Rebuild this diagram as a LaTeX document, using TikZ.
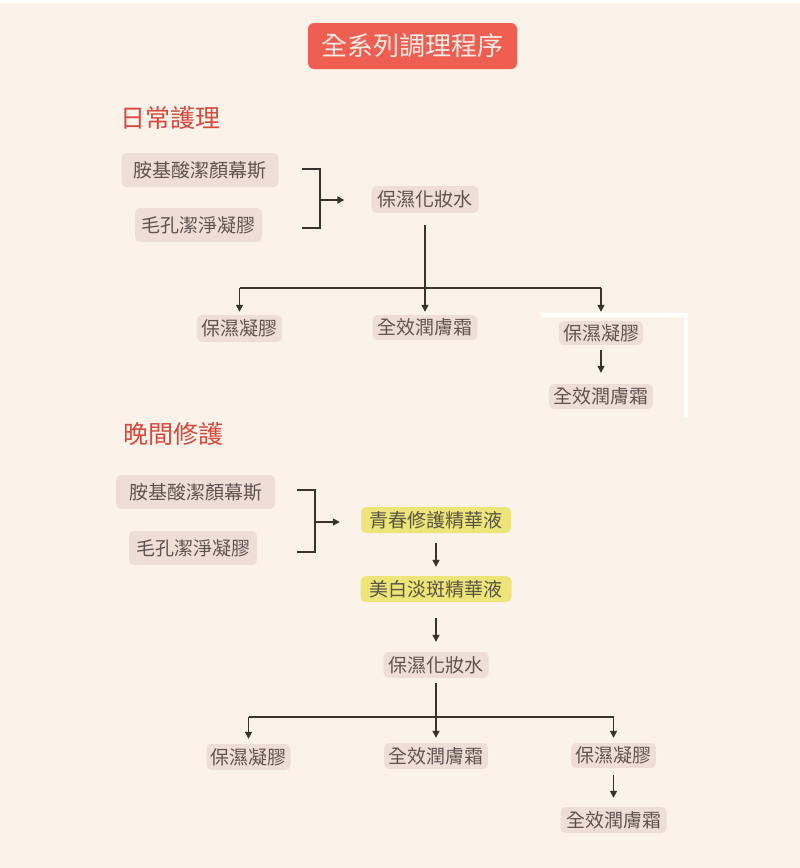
\documentclass[tikz,border=0pt]{standalone}
\usepackage{fontspec}
\setmainfont{Noto Sans CJK TC}
\usetikzlibrary{arrows.meta}
\definecolor{paper}{HTML}{FBF3EA}
\definecolor{itemfill}{HTML}{EEDED6}
\definecolor{itemtext}{HTML}{5F5450}
\definecolor{serumfill}{HTML}{EDE47A}
\definecolor{serumtext}{HTML}{5A5444}
\definecolor{titlered}{HTML}{EE5F52}
\definecolor{titletext}{HTML}{FCEAE4}
\definecolor{headred}{HTML}{D9483D}
\definecolor{linkcol}{HTML}{3B312D}
\tikzset{
  item/.style={fill=itemfill, text=itemtext, rounded corners=5pt,
    font=\fontsize{19}{19}\selectfont, minimum height=26pt, inner xsep=4pt, inner ysep=0pt},
  serum/.style={item, fill=serumfill, text=serumtext},
  heading/.style={text=headred, font=\fontsize{25}{25}\selectfont, anchor=west, inner sep=0pt},
  link/.style={draw=linkcol, line width=1.5pt},
  flow/.style={link, -{Triangle[length=7pt,width=7pt]}},
}
\begin{document}
\begin{tikzpicture}[x=1pt, y=-1pt]
  \fill[paper] (0,0) rectangle (800,868);
  \fill[white] (0,0) rectangle (800,3);

  \node[fill=titlered, text=titletext, rounded corners=6pt, minimum width=209pt, minimum height=46pt,
    font=\fontsize{26}{26}\selectfont] (title) at (412.5,46) {全系列調理程序};

  % day
  \node[heading] (day) at (120,118) {日常護理};
  \node[item, minimum width=157pt, minimum height=34pt] (amino1) at (200,170) {胺基酸潔顏幕斯};
  \node[item, minimum width=127pt, minimum height=34pt] (pore1) at (198.5,225) {毛孔潔淨凝膠};
  \node[item, minimum width=107pt, minimum height=27pt] (toner1) at (425,199.5) {保濕化妝水};
  \node[item, minimum width=85pt, minimum height=27pt] (gel1) at (239.5,328.5) {保濕凝膠};
  \node[item, minimum width=105pt, minimum height=25pt] (cream1) at (425,327.5) {全效潤膚霜};
  \node[item, minimum width=84pt, minimum height=24pt] (gel1b) at (601,333) {保濕凝膠};
  \node[item, minimum width=104pt, minimum height=25pt] (cream1b) at (601,396.5) {全效潤膚霜};

  \coordinate (b1a) at (302,169);
  \coordinate (b1b) at (302,228);
  \coordinate (b1x) at (320,200);
  \coordinate (f1) at (0,288);
  \draw[link] (b1a) -| (b1x) |- (b1b);
  \draw[flow, shorten >=27pt] (b1x) -- (b1x -| toner1.west);
  \draw[flow, shorten <=12pt, shorten >=3pt] (toner1.south) -- (cream1.north);
  \draw[link] (gel1.north |- f1) -- (gel1b.north |- f1);
  \draw[flow, shorten >=3pt] (gel1.north |- f1) -- (gel1.north);
  \draw[flow, shorten >=9pt] (gel1b.north |- f1) -- (gel1b.north);
  \draw[flow, shorten <=5pt, shorten >=11pt] (gel1b.south) -- (cream1b.north);

  \draw[white, line width=4pt] (541,315) -| (686,418);

  % night
  \node[heading] (night) at (123,434) {晚間修護};
  \node[item, minimum width=159pt, minimum height=34pt] (amino2) at (195.5,492) {胺基酸潔顏幕斯};
  \node[item, minimum width=128pt, minimum height=34pt] (pore2) at (193,548) {毛孔潔淨凝膠};
  \node[serum, minimum width=150pt] (serum1) at (436,520) {青春修護精華液};
  \node[serum, minimum width=151pt] (serum2) at (436,589) {美白淡斑精華液};
  \node[item, minimum width=105pt] (toner2) at (436,665) {保濕化妝水};
  \node[item, minimum width=83pt] (gel2) at (248.5,757) {保濕凝膠};
  \node[item, minimum width=104pt] (cream2) at (436,756) {全效潤膚霜};
  \node[item, minimum width=85pt, minimum height=25pt] (gel2b) at (613.5,755.5) {保濕凝膠};
  \node[item, minimum width=106pt] (cream2b) at (613.5,820) {全效潤膚霜};

  \coordinate (b2a) at (297,490);
  \coordinate (b2b) at (297,552);
  \coordinate (b2x) at (315,522);
  \coordinate (f2) at (0,717);
  \draw[link] (b2a) -| (b2x) |- (b2b);
  \draw[flow, shorten >=21pt] (b2x) -- (b2x -| serum1.west);
  \draw[flow, shorten <=10pt, shorten >=9pt] (serum1.south) -- (serum2.north);
  \draw[flow, shorten <=16pt, shorten >=10pt] (serum2.south) -- (toner2.north);
  \draw[flow, shorten <=5pt, shorten >=5pt] (toner2.south) -- (cream2.north);
  \draw[link] (gel2.north |- f2) -- (gel2b.north |- f2);
  \draw[flow, shorten >=5pt] (gel2.north |- f2) -- (gel2.north);
  \draw[flow, shorten >=5pt] (gel2b.north |- f2) -- (gel2b.north);
  \draw[flow, shorten <=7pt, shorten >=9pt] (gel2b.south) -- (cream2b.north);
\end{tikzpicture}
\end{document}
